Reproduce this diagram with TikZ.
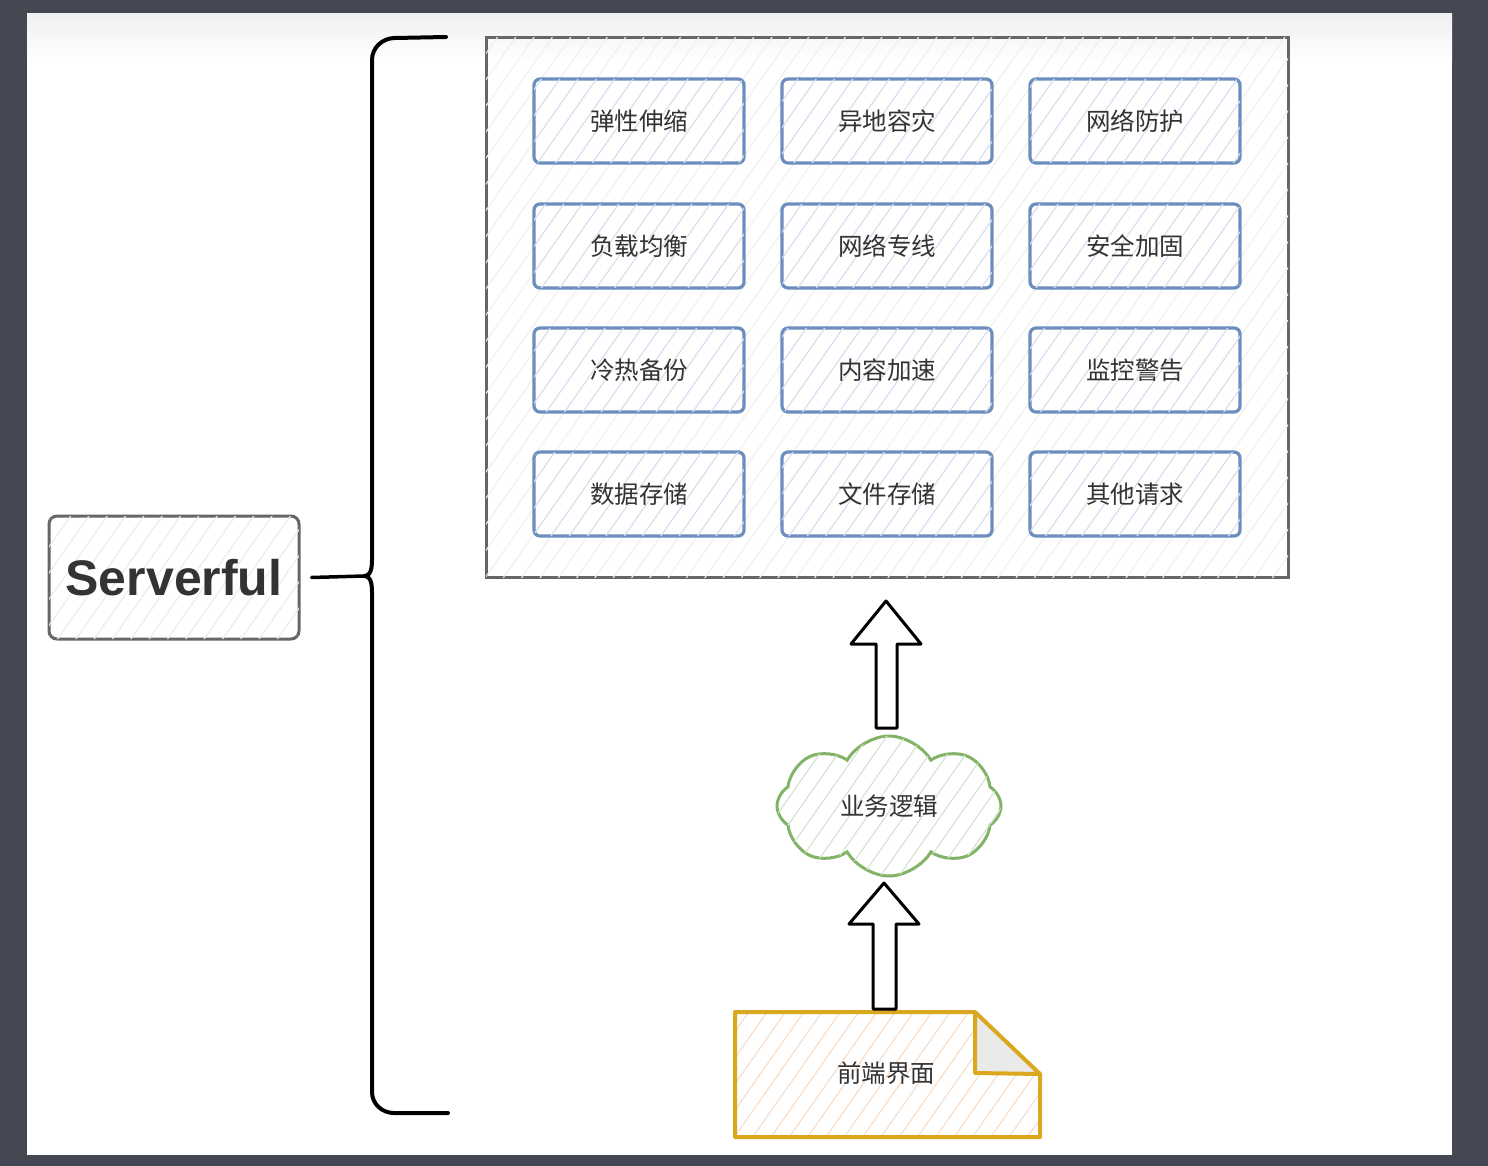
\documentclass[tikz,border=0pt]{standalone}
\usepackage{fontspec}
\setmainfont{Liberation Sans}
\newfontfamily\cjk{Noto Sans CJK SC}
\usetikzlibrary{patterns.meta,shapes.symbols,shapes.arrows}
\definecolor{bgdark}{HTML}{454852}
\definecolor{txt}{HTML}{333333}
\definecolor{bstroke}{HTML}{6C8EBF}
\definecolor{bfill}{HTML}{D6E2F4}
\definecolor{gstroke}{HTML}{82B366}
\definecolor{gfill}{HTML}{D2E4CE}
\definecolor{ystroke}{HTML}{DAA81E}
\definecolor{yfill}{HTML}{F8DCC6}
\definecolor{graystroke}{HTML}{666666}
\definecolor{grayfill}{HTML}{EBEBEB}
\definecolor{foldfill}{HTML}{EAEAEA}
\tikzset{
  hatch/.style={postaction={pattern={Lines[angle=55,distance=15pt,line width=1.1pt]},pattern color=#1}},
  svc/.style={draw=bstroke,line width=3.2pt,rounded corners=6pt,minimum width=210pt,minimum height=84pt,
    font=\cjk\fontsize{24.5}{26}\selectfont,text=txt,hatch=bfill},
  cjktext/.style={font=\cjk\fontsize{24.5}{26}\selectfont,text=txt},
  bigarrow/.style={draw=black,line width=3pt,fill=white,line join=round},
  bracepath/.style={draw=black,line width=4pt,line cap=round,line join=round}
}
\begin{document}
\begin{tikzpicture}[x=1pt,y=-1pt]
\useasboundingbox (0,0) rectangle (1488,1166);
\fill[bgdark] (0,0) rectangle (1488,1166);
\fill[white] (27,14) rectangle (1452,1155);
\shade[top color=gray!12,bottom color=white] (27,14) rectangle (1452,62);

% big container
\node[draw=graystroke,line width=3pt,minimum width=802pt,minimum height=539pt,hatch=grayfill!80,inner sep=0pt] (main) at (887,307.5) {};

% service boxes
\node[svc] (b11) at (639,121) {弹性伸缩};
\node[svc] (b12) at (887,121) {异地容灾};
\node[svc] (b13) at (1135,121) {网络防护};
\node[svc] (b21) at (639,246) {负载均衡};
\node[svc] (b22) at (887,246) {网络专线};
\node[svc] (b23) at (1135,246) {安全加固};
\node[svc] (b31) at (639,370) {冷热备份};
\node[svc] (b32) at (887,370) {内容加速};
\node[svc] (b33) at (1135,370) {监控警告};
\node[svc] (b41) at (639,494) {数据存储};
\node[svc] (b42) at (887,494) {文件存储};
\node[svc] (b43) at (1135,494) {其他请求};

% Serverful
\node[draw=graystroke,line width=3pt,rounded corners=8pt,minimum width=250pt,minimum height=123pt,
  font=\bfseries\fontsize{50}{54}\selectfont,text=txt,hatch=grayfill] (sf) at (174,577.5) {Serverful};

% brace
\coordinate (tip) at (364,576);
\coordinate (btop) at (446,37);
\coordinate (bbot) at (448,1113);
\draw[bracepath] (btop) -- (395,38) to[out=180,in=90] (372,60) -- (372,556)
  to[out=270,in=0] (tip) to[out=0,in=90] (372,596) -- (372,1092) to[out=270,in=180] (394,1113) -- (bbot);
\draw[bracepath,line width=3.5pt] (sf.east) ++(11,0) -- (tip);

% cloud
\node[cloud,cloud puffs=8,cloud puff arc=120,aspect=1.6,draw=gstroke,line width=3pt,
  minimum width=224pt,minimum height=140pt,hatch=gfill,cjktext] (cloud) at (889,806) {业务逻辑};

% document
\coordinate (d1) at (735,1012);
\coordinate (d2) at (975,1012);
\coordinate (d3) at (1040,1074);
\coordinate (d4) at (1040,1137);
\coordinate (d5) at (735,1137);
\coordinate (dfold) at (975,1073);
\path[hatch=yfill] (d1) -- (d2) -- (d3) -- (d4) -- (d5) -- cycle;
\fill[foldfill] (d2) -- (dfold) -- (d3) -- cycle;
\draw[draw=ystroke,line width=4pt,line join=round] (d1) -- (d2) -- (d3) -- (d4) -- (d5) -- cycle;
\draw[draw=ystroke,line width=4pt,line join=round] (d2) -- (dfold) -- (d3);
\node[cjktext] (doc) at (886,1073) {前端界面};

% block arrows
\coordinate (a1tip) at (886,601);
\draw[bigarrow] (a1tip) -- (921,644) -- (897,644) -- (897,728) -- (876,728) -- (876,644) -- (851,644) -- cycle;
\coordinate (a2tip) at (884,883);
\draw[bigarrow] (a2tip) -- (919,924) -- (896,924) -- (896,1009) -- (873,1009) -- (873,924) -- (849,924) -- cycle;
\end{tikzpicture}
\end{document}
